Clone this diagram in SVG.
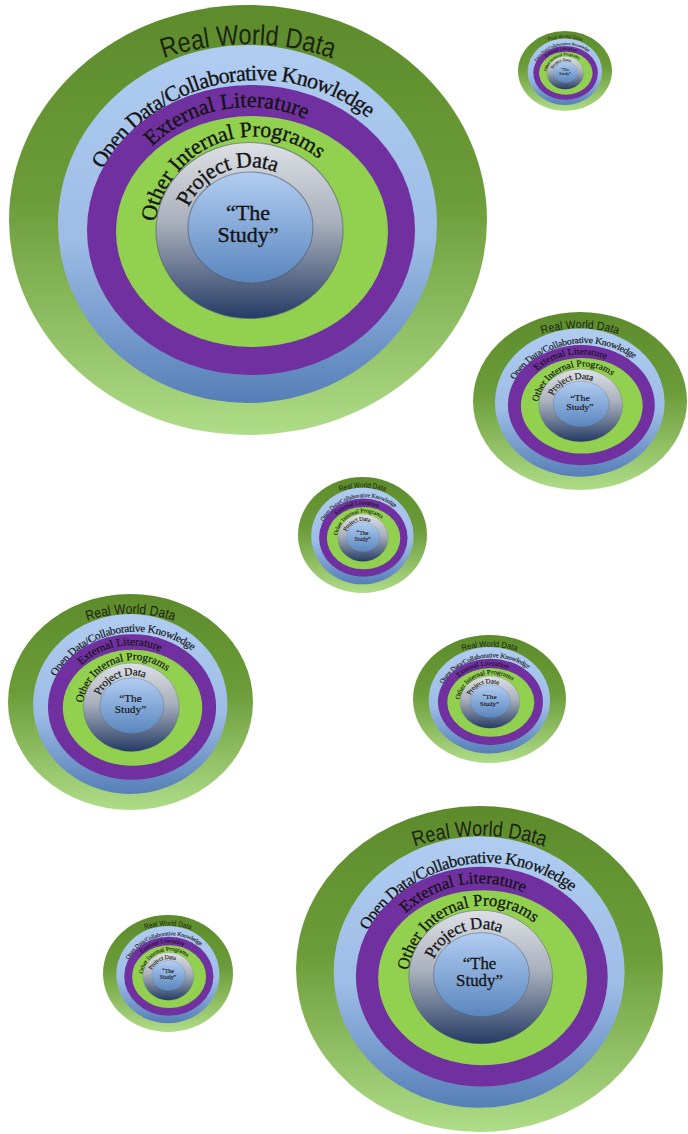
<svg xmlns="http://www.w3.org/2000/svg" width="688" height="1134" viewBox="0 0 688 1134">
<style>
.rw{font-family:"Liberation Sans",Arial,sans-serif;font-size:28px;fill:#1c2414}
.lb{font-family:"Liberation Serif","Times New Roman",serif;font-size:22px;fill:#141414;stroke:#141414;stroke-width:0.35px}
.ctr{text-anchor:middle}
.edge{stroke:#4f5a6a;stroke-opacity:.55;stroke-width:1.2}
</style>
<defs>
<linearGradient id="gOuter" x1="0" y1="0" x2="0" y2="1">
<stop offset="0" stop-color="#5d8b2c"/><stop offset="0.45" stop-color="#6c9c39"/><stop offset="1" stop-color="#afdc88"/>
</linearGradient>
<linearGradient id="gBlue" x1="0" y1="0" x2="0" y2="1">
<stop offset="0" stop-color="#b0ccf1"/><stop offset="0.55" stop-color="#9dbce6"/><stop offset="1" stop-color="#557fb7"/>
</linearGradient>
<linearGradient id="gGray" x1="0" y1="0" x2="0" y2="1">
<stop offset="0" stop-color="#dde0e5"/><stop offset="0.45" stop-color="#aab1bd"/><stop offset="1" stop-color="#253b65"/>
</linearGradient>
<linearGradient id="gInner" x1="0" y1="0" x2="0" y2="1">
<stop offset="0" stop-color="#b2cdf2"/><stop offset="1" stop-color="#5a86be"/>
</linearGradient>
<path id="pRWD" d="M 130 72.6 A 260 260 0 0 1 366 72.6"/>
<path id="pOpen" d="M 103 169.5 A 179 179 0 0 1 370.6 119.9"/>
<path id="pExt" d="M 151.9 146.9 A 138 138 0 0 1 306.2 119.4"/>
<path id="pOther" d="M 155.2 222 A 101 101 0 0 1 319.9 160.1"/>
<path id="pProj" d="M 188.6 207.3 A 67 67 0 0 1 276.7 172.6"/>
</defs>
<g id="connectors"/>

<g id="d1" transform="translate(9 5) scale(1 1) translate(-9 -5)">
<g id="d1-real-world-data"><ellipse cx="248" cy="220" rx="239" ry="215" fill="url(#gOuter)"/><text class="rw ctr"><textPath href="#pRWD" startOffset="50%" textLength="172" lengthAdjust="spacingAndGlyphs">Real World Data</textPath></text></g>
<g id="d1-open-data"><ellipse cx="247.5" cy="224" rx="189.5" ry="179" fill="url(#gBlue)"/><text class="lb"><textPath href="#pOpen" textLength="306">Open Data/Collaborative Knowledge</textPath></text></g>
<g id="d1-external-literature"><ellipse cx="251" cy="230" rx="164" ry="145" fill="#7030a0"/><text class="lb"><textPath href="#pExt" textLength="166">External Literature</textPath></text></g>
<g id="d1-other-internal-programs"><ellipse cx="252" cy="231.5" rx="136" ry="115.5" fill="#92d050"/><text class="lb"><textPath href="#pOther" textLength="212">Other Internal Programs</textPath></text></g>
<g id="d1-project-data"><ellipse class="edge" cx="249.5" cy="230.5" rx="93.5" ry="88" fill="url(#gGray)"/><text class="lb"><textPath href="#pProj" textLength="104">Project Data</textPath></text></g>
<g id="d1-the-study"><ellipse class="edge" cx="250.5" cy="227.5" rx="62.5" ry="55.5" fill="url(#gInner)"/><text class="lb ctr" x="248" y="220">“The</text><text class="lb ctr" x="248" y="242">Study”</text></g>
</g>

<g id="d2" transform="translate(518 31) scale(0.19665 0.18605) translate(-9 -5)">
<g id="d2-real-world-data"><ellipse cx="248" cy="220" rx="239" ry="215" fill="url(#gOuter)"/><text class="rw ctr"><textPath href="#pRWD" startOffset="50%" textLength="172" lengthAdjust="spacingAndGlyphs">Real World Data</textPath></text></g>
<g id="d2-open-data"><ellipse cx="247.5" cy="224" rx="189.5" ry="179" fill="url(#gBlue)"/><text class="lb"><textPath href="#pOpen" textLength="306">Open Data/Collaborative Knowledge</textPath></text></g>
<g id="d2-external-literature"><ellipse cx="251" cy="230" rx="164" ry="145" fill="#7030a0"/><text class="lb"><textPath href="#pExt" textLength="166">External Literature</textPath></text></g>
<g id="d2-other-internal-programs"><ellipse cx="252" cy="231.5" rx="136" ry="115.5" fill="#92d050"/><text class="lb"><textPath href="#pOther" textLength="212">Other Internal Programs</textPath></text></g>
<g id="d2-project-data"><ellipse class="edge" cx="249.5" cy="230.5" rx="93.5" ry="88" fill="url(#gGray)"/><text class="lb"><textPath href="#pProj" textLength="104">Project Data</textPath></text></g>
<g id="d2-the-study"><ellipse class="edge" cx="250.5" cy="227.5" rx="62.5" ry="55.5" fill="url(#gInner)"/><text class="lb ctr" x="248" y="220">“The</text><text class="lb ctr" x="248" y="242">Study”</text></g>
</g>

<g id="d3" transform="translate(473 312) scale(0.4477 0.41395) translate(-9 -5)">
<g id="d3-real-world-data"><ellipse cx="248" cy="220" rx="239" ry="215" fill="url(#gOuter)"/><text class="rw ctr"><textPath href="#pRWD" startOffset="50%" textLength="172" lengthAdjust="spacingAndGlyphs">Real World Data</textPath></text></g>
<g id="d3-open-data"><ellipse cx="247.5" cy="224" rx="189.5" ry="179" fill="url(#gBlue)"/><text class="lb"><textPath href="#pOpen" textLength="306">Open Data/Collaborative Knowledge</textPath></text></g>
<g id="d3-external-literature"><ellipse cx="251" cy="230" rx="164" ry="145" fill="#7030a0"/><text class="lb"><textPath href="#pExt" textLength="166">External Literature</textPath></text></g>
<g id="d3-other-internal-programs"><ellipse cx="252" cy="231.5" rx="136" ry="115.5" fill="#92d050"/><text class="lb"><textPath href="#pOther" textLength="212">Other Internal Programs</textPath></text></g>
<g id="d3-project-data"><ellipse class="edge" cx="249.5" cy="230.5" rx="93.5" ry="88" fill="url(#gGray)"/><text class="lb"><textPath href="#pProj" textLength="104">Project Data</textPath></text></g>
<g id="d3-the-study"><ellipse class="edge" cx="250.5" cy="227.5" rx="62.5" ry="55.5" fill="url(#gInner)"/><text class="lb ctr" x="248" y="220">“The</text><text class="lb ctr" x="248" y="242">Study”</text></g>
</g>

<g id="d4" transform="translate(298 477) scale(0.26987 0.26977) translate(-9 -5)">
<g id="d4-real-world-data"><ellipse cx="248" cy="220" rx="239" ry="215" fill="url(#gOuter)"/><text class="rw ctr"><textPath href="#pRWD" startOffset="50%" textLength="172" lengthAdjust="spacingAndGlyphs">Real World Data</textPath></text></g>
<g id="d4-open-data"><ellipse cx="247.5" cy="224" rx="189.5" ry="179" fill="url(#gBlue)"/><text class="lb"><textPath href="#pOpen" textLength="306">Open Data/Collaborative Knowledge</textPath></text></g>
<g id="d4-external-literature"><ellipse cx="251" cy="230" rx="164" ry="145" fill="#7030a0"/><text class="lb"><textPath href="#pExt" textLength="166">External Literature</textPath></text></g>
<g id="d4-other-internal-programs"><ellipse cx="252" cy="231.5" rx="136" ry="115.5" fill="#92d050"/><text class="lb"><textPath href="#pOther" textLength="212">Other Internal Programs</textPath></text></g>
<g id="d4-project-data"><ellipse class="edge" cx="249.5" cy="230.5" rx="93.5" ry="88" fill="url(#gGray)"/><text class="lb"><textPath href="#pProj" textLength="104">Project Data</textPath></text></g>
<g id="d4-the-study"><ellipse class="edge" cx="250.5" cy="227.5" rx="62.5" ry="55.5" fill="url(#gInner)"/><text class="lb ctr" x="248" y="220">“The</text><text class="lb ctr" x="248" y="242">Study”</text></g>
</g>

<g id="d5" transform="translate(8 594) scale(0.51255 0.50233) translate(-9 -5)">
<g id="d5-real-world-data"><ellipse cx="248" cy="220" rx="239" ry="215" fill="url(#gOuter)"/><text class="rw ctr"><textPath href="#pRWD" startOffset="50%" textLength="172" lengthAdjust="spacingAndGlyphs">Real World Data</textPath></text></g>
<g id="d5-open-data"><ellipse cx="247.5" cy="224" rx="189.5" ry="179" fill="url(#gBlue)"/><text class="lb"><textPath href="#pOpen" textLength="306">Open Data/Collaborative Knowledge</textPath></text></g>
<g id="d5-external-literature"><ellipse cx="251" cy="230" rx="164" ry="145" fill="#7030a0"/><text class="lb"><textPath href="#pExt" textLength="166">External Literature</textPath></text></g>
<g id="d5-other-internal-programs"><ellipse cx="252" cy="231.5" rx="136" ry="115.5" fill="#92d050"/><text class="lb"><textPath href="#pOther" textLength="212">Other Internal Programs</textPath></text></g>
<g id="d5-project-data"><ellipse class="edge" cx="249.5" cy="230.5" rx="93.5" ry="88" fill="url(#gGray)"/><text class="lb"><textPath href="#pProj" textLength="104">Project Data</textPath></text></g>
<g id="d5-the-study"><ellipse class="edge" cx="250.5" cy="227.5" rx="62.5" ry="55.5" fill="url(#gInner)"/><text class="lb ctr" x="248" y="220">“The</text><text class="lb ctr" x="248" y="242">Study”</text></g>
</g>

<g id="d6" transform="translate(413 635) scale(0.32008 0.29767) translate(-9 -5)">
<g id="d6-real-world-data"><ellipse cx="248" cy="220" rx="239" ry="215" fill="url(#gOuter)"/><text class="rw ctr"><textPath href="#pRWD" startOffset="50%" textLength="172" lengthAdjust="spacingAndGlyphs">Real World Data</textPath></text></g>
<g id="d6-open-data"><ellipse cx="247.5" cy="224" rx="189.5" ry="179" fill="url(#gBlue)"/><text class="lb"><textPath href="#pOpen" textLength="306">Open Data/Collaborative Knowledge</textPath></text></g>
<g id="d6-external-literature"><ellipse cx="251" cy="230" rx="164" ry="145" fill="#7030a0"/><text class="lb"><textPath href="#pExt" textLength="166">External Literature</textPath></text></g>
<g id="d6-other-internal-programs"><ellipse cx="252" cy="231.5" rx="136" ry="115.5" fill="#92d050"/><text class="lb"><textPath href="#pOther" textLength="212">Other Internal Programs</textPath></text></g>
<g id="d6-project-data"><ellipse class="edge" cx="249.5" cy="230.5" rx="93.5" ry="88" fill="url(#gGray)"/><text class="lb"><textPath href="#pProj" textLength="104">Project Data</textPath></text></g>
<g id="d6-the-study"><ellipse class="edge" cx="250.5" cy="227.5" rx="62.5" ry="55.5" fill="url(#gInner)"/><text class="lb ctr" x="248" y="220">“The</text><text class="lb ctr" x="248" y="242">Study”</text></g>
</g>

<g id="d7" transform="translate(103 915) scale(0.27197 0.27209) translate(-9 -5)">
<g id="d7-real-world-data"><ellipse cx="248" cy="220" rx="239" ry="215" fill="url(#gOuter)"/><text class="rw ctr"><textPath href="#pRWD" startOffset="50%" textLength="172" lengthAdjust="spacingAndGlyphs">Real World Data</textPath></text></g>
<g id="d7-open-data"><ellipse cx="247.5" cy="224" rx="189.5" ry="179" fill="url(#gBlue)"/><text class="lb"><textPath href="#pOpen" textLength="306">Open Data/Collaborative Knowledge</textPath></text></g>
<g id="d7-external-literature"><ellipse cx="251" cy="230" rx="164" ry="145" fill="#7030a0"/><text class="lb"><textPath href="#pExt" textLength="166">External Literature</textPath></text></g>
<g id="d7-other-internal-programs"><ellipse cx="252" cy="231.5" rx="136" ry="115.5" fill="#92d050"/><text class="lb"><textPath href="#pOther" textLength="212">Other Internal Programs</textPath></text></g>
<g id="d7-project-data"><ellipse class="edge" cx="249.5" cy="230.5" rx="93.5" ry="88" fill="url(#gGray)"/><text class="lb"><textPath href="#pProj" textLength="104">Project Data</textPath></text></g>
<g id="d7-the-study"><ellipse class="edge" cx="250.5" cy="227.5" rx="62.5" ry="55.5" fill="url(#gInner)"/><text class="lb ctr" x="248" y="220">“The</text><text class="lb ctr" x="248" y="242">Study”</text></g>
</g>

<g id="d8" transform="translate(296 806) scale(0.76778 0.75814) translate(-9 -5)">
<g id="d8-real-world-data"><ellipse cx="248" cy="220" rx="239" ry="215" fill="url(#gOuter)"/><text class="rw ctr"><textPath href="#pRWD" startOffset="50%" textLength="172" lengthAdjust="spacingAndGlyphs">Real World Data</textPath></text></g>
<g id="d8-open-data"><ellipse cx="247.5" cy="224" rx="189.5" ry="179" fill="url(#gBlue)"/><text class="lb"><textPath href="#pOpen" textLength="306">Open Data/Collaborative Knowledge</textPath></text></g>
<g id="d8-external-literature"><ellipse cx="251" cy="230" rx="164" ry="145" fill="#7030a0"/><text class="lb"><textPath href="#pExt" textLength="166">External Literature</textPath></text></g>
<g id="d8-other-internal-programs"><ellipse cx="252" cy="231.5" rx="136" ry="115.5" fill="#92d050"/><text class="lb"><textPath href="#pOther" textLength="212">Other Internal Programs</textPath></text></g>
<g id="d8-project-data"><ellipse class="edge" cx="249.5" cy="230.5" rx="93.5" ry="88" fill="url(#gGray)"/><text class="lb"><textPath href="#pProj" textLength="104">Project Data</textPath></text></g>
<g id="d8-the-study"><ellipse class="edge" cx="250.5" cy="227.5" rx="62.5" ry="55.5" fill="url(#gInner)"/><text class="lb ctr" x="248" y="220">“The</text><text class="lb ctr" x="248" y="242">Study”</text></g>
</g>
</svg>
